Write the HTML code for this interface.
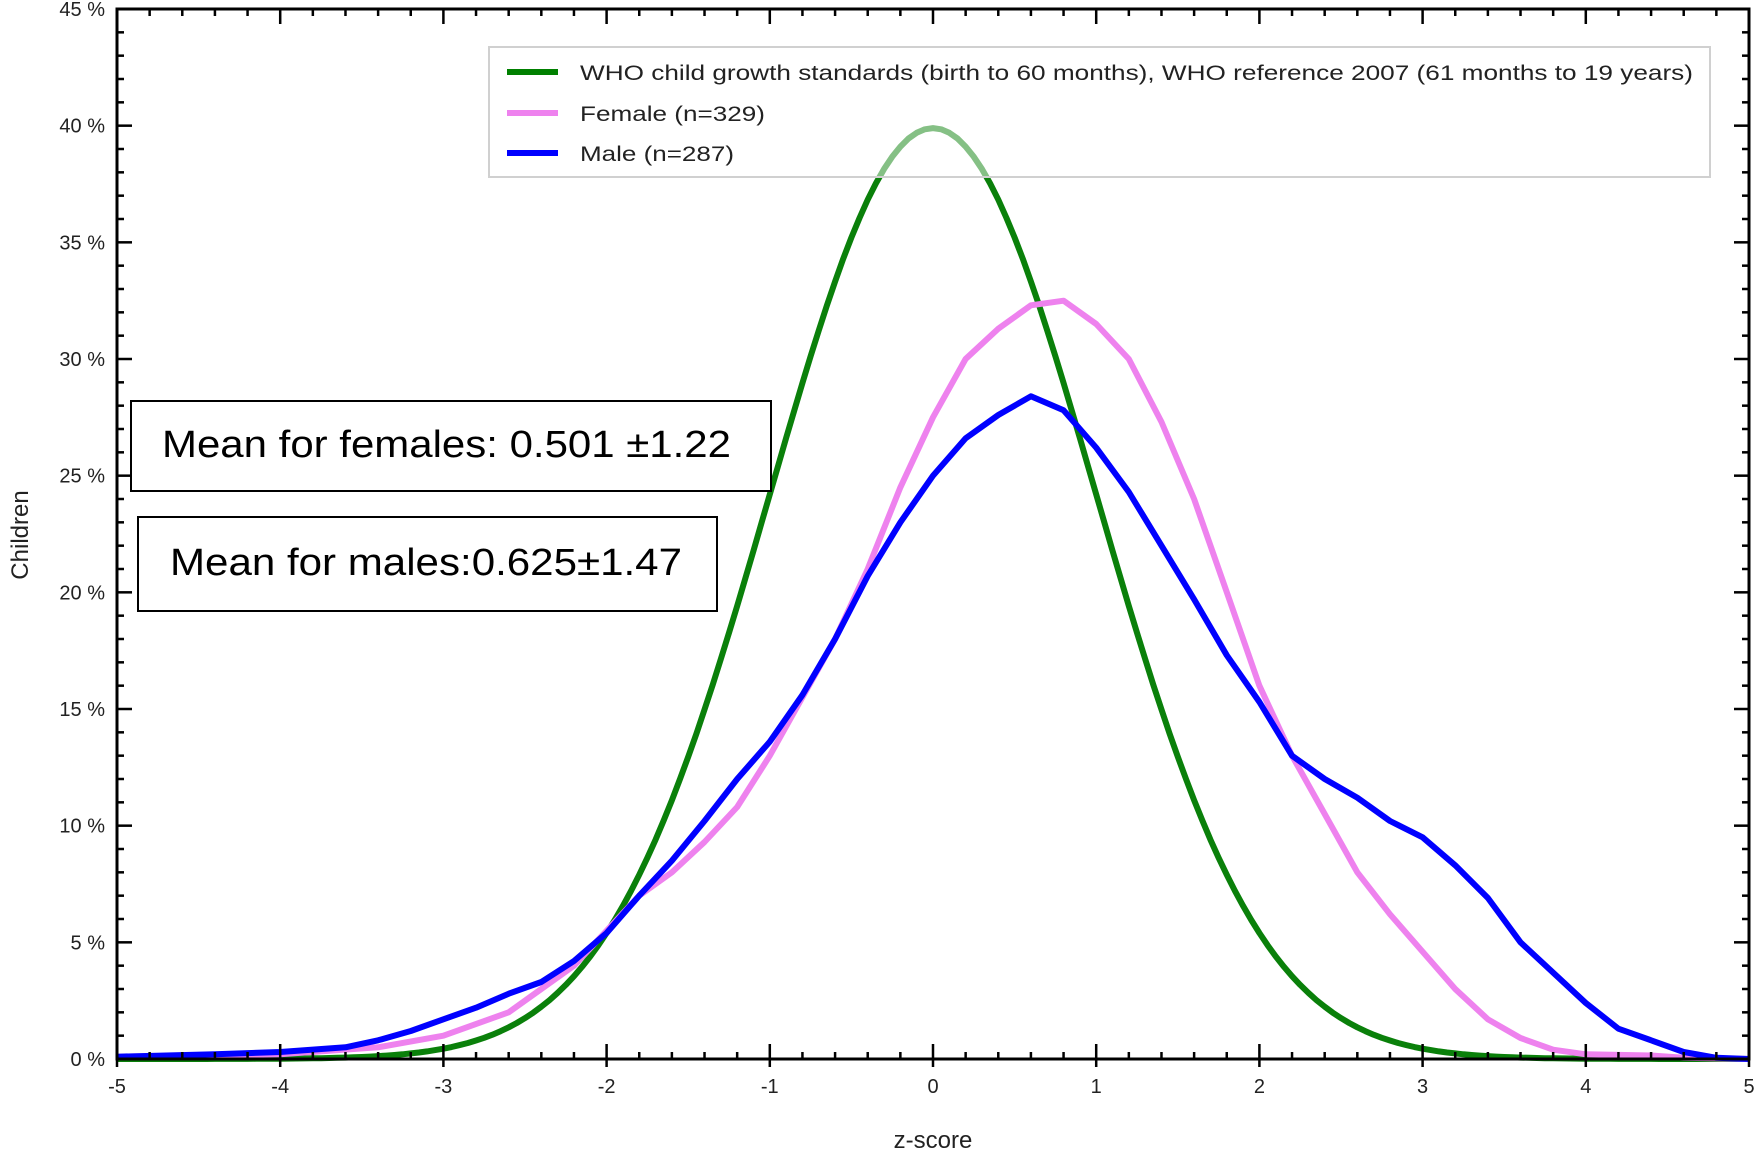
<!DOCTYPE html>
<html><head><meta charset="utf-8"><style>
html,body{margin:0;padding:0;background:#fff;}
svg{display:block;font-family:"Liberation Sans",sans-serif;}
</style></head><body>
<svg id="s" width="1755" height="1152" viewBox="0 0 1755 1152" xmlns="http://www.w3.org/2000/svg">
<g id="curves"></g>
<g id="axes"></g>
<rect x="489" y="47" width="1221" height="130" fill="#fff" fill-opacity="0.5" stroke="#d0d0d0" stroke-width="2"/>
<line x1="507" y1="72" x2="558" y2="72" stroke="#008000" stroke-width="6"/>
<line x1="507" y1="113" x2="558" y2="113" stroke="#ee82ee" stroke-width="6"/>
<line x1="507" y1="153" x2="558" y2="153" stroke="#0000ff" stroke-width="6"/>
<text x="580" y="80" font-size="21" fill="#222" textLength="1113" lengthAdjust="spacingAndGlyphs">WHO child growth standards (birth to 60 months), WHO reference 2007 (61 months to 19 years)</text>
<text x="580" y="121" font-size="21" fill="#222" textLength="185" lengthAdjust="spacingAndGlyphs">Female (n=329)</text>
<text x="580" y="161" font-size="21" fill="#222" textLength="154" lengthAdjust="spacingAndGlyphs">Male (n=287)</text>
<rect x="131" y="401" width="640" height="90" fill="#fff" stroke="#000" stroke-width="2"/>
<text x="162" y="457" font-size="38" fill="#000" textLength="569" lengthAdjust="spacingAndGlyphs">Mean for females: 0.501 ±1.22</text>
<rect x="138" y="517" width="579" height="94" fill="#fff" stroke="#000" stroke-width="2"/>
<text x="170" y="575" font-size="38" fill="#000" textLength="512" lengthAdjust="spacingAndGlyphs">Mean for males:0.625±1.47</text>
<text x="28" y="535" font-size="24" text-anchor="middle" transform="rotate(-90 28 535)" fill="#222">Children</text>
<text x="933" y="1148" font-size="24" text-anchor="middle" fill="#222">z-score</text>
</svg>
<script>
var L=117,R=1749,T=9,B=1059;
function X(z){return L+(z+5)*(R-L)/10;}
function Y(p){return B-p*(B-T)/45;}
var ns="http://www.w3.org/2000/svg";
function path(pts,col,w,par){var d="";pts.forEach(function(p,i){d+=(i?"L":"M")+X(p[0]).toFixed(1)+","+Y(p[1]).toFixed(1);});
var e=document.createElementNS(ns,"path");e.setAttribute("d",d);e.setAttribute("fill","none");e.setAttribute("stroke",col);e.setAttribute("stroke-width",w);e.setAttribute("stroke-linejoin","round");par.appendChild(e);}
var g=document.getElementById("curves");
var gr=[];for(var z=-5;z<=5.001;z+=0.05){gr.push([z,100*Math.exp(-z*z/2)/Math.sqrt(2*Math.PI)]);}
path(gr,"#0a800a",6,g);
var f=[[-5,0.1],[-4,0.2],[-3.4,0.5],[-3,1],[-2.6,2],[-2.4,3],[-2.2,4],[-2,5.5],[-1.8,7],[-1.6,8],[-1.4,9.3],[-1.2,10.8],[-1,13],[-0.8,15.5],[-0.6,18],[-0.4,21],[-0.2,24.5],[0,27.5],[0.2,30],[0.4,31.3],[0.6,32.3],[0.8,32.5],[1,31.5],[1.2,30],[1.4,27.3],[1.6,24],[1.8,20],[2,16],[2.2,13],[2.4,10.5],[2.6,8],[2.8,6.2],[3,4.6],[3.2,3],[3.4,1.7],[3.6,0.9],[3.8,0.4],[4,0.2],[4.4,0.15],[4.6,0.05],[5,0]];
path(f,"#ee82ee",6,g);
var m=[[-5,0.1],[-4.4,0.2],[-4,0.3],[-3.6,0.5],[-3.4,0.8],[-3.2,1.2],[-3,1.7],[-2.8,2.2],[-2.6,2.8],[-2.4,3.3],[-2.2,4.2],[-2,5.4],[-1.8,7],[-1.6,8.5],[-1.4,10.2],[-1.2,12],[-1,13.6],[-0.8,15.6],[-0.6,18],[-0.4,20.7],[-0.2,23],[0,25],[0.2,26.6],[0.4,27.6],[0.6,28.4],[0.8,27.8],[1,26.2],[1.2,24.3],[1.4,22],[1.6,19.7],[1.8,17.3],[2,15.3],[2.2,13],[2.4,12],[2.6,11.2],[2.8,10.2],[3,9.5],[3.2,8.3],[3.4,6.9],[3.6,5],[3.8,3.7],[4,2.4],[4.2,1.3],[4.4,0.8],[4.6,0.3],[4.8,0.05],[5,0]];
path(m,"#0000ff",6,g);
var a=document.getElementById("axes"),h="";
h+='<rect x="'+L+'" y="'+T+'" width="'+(R-L)+'" height="'+(B-T)+'" fill="none" stroke="#000" stroke-width="3"/>';
for(var i=0;i<=50;i++){var z=-5+i*0.2,x=X(z),mj=(i%5==0),len=mj?15:7;
h+='<line x1="'+x+'" y1="'+B+'" x2="'+x+'" y2="'+(B-len)+'" stroke="#000" stroke-width="2.5"/>';
h+='<line x1="'+x+'" y1="'+T+'" x2="'+x+'" y2="'+(T+len)+'" stroke="#000" stroke-width="2.5"/>';
if(mj){h+='<line x1="'+x+'" y1="'+B+'" x2="'+x+'" y2="'+(B+8)+'" stroke="#000" stroke-width="2.5"/>';
h+='<text x="'+x+'" y="'+(B+34)+'" font-size="20" text-anchor="middle" fill="#222">'+Math.round(z)+'</text>';}}
for(var p=0;p<=45;p++){var y=Y(p),mj=(p%5==0),len=mj?15:7;
h+='<line x1="'+L+'" y1="'+y+'" x2="'+(L+len)+'" y2="'+y+'" stroke="#000" stroke-width="2.5"/>';
h+='<line x1="'+R+'" y1="'+y+'" x2="'+(R-len)+'" y2="'+y+'" stroke="#000" stroke-width="2.5"/>';
if(mj)h+='<text x="'+(L-12)+'" y="'+(y+7)+'" font-size="20" text-anchor="end" fill="#222">'+p+' %</text>';}
a.innerHTML=h;
</script>
</body></html>
